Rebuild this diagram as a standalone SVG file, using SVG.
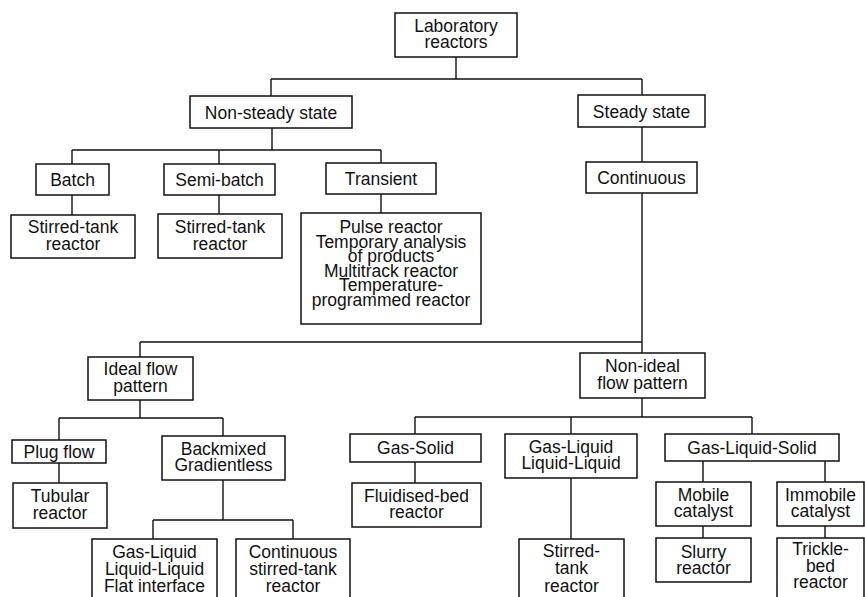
<svg xmlns="http://www.w3.org/2000/svg" width="865" height="597" viewBox="0 0 865 597">
  <style>
    .box { fill: #ffffff; stroke: #111111; stroke-width: 1.5; }
    .wire { fill: none; stroke: #111111; stroke-width: 1.4; }
    text { font-family: "Liberation Sans", Arial, Helvetica, sans-serif; font-size: 17.5px; fill: #111111; text-anchor: middle; }
  </style>
  <rect x="0" y="0" width="865" height="597" fill="#ffffff"/>

  <!-- tree connectors -->
  <g id="connectors" class="wire">
    <path d="M456,57 V79 M271,79 H642 M271,79 V96 M642,79 V95"/>
    <path d="M272,128 V150 M72,150 H381 M72,150 V164 M219,150 V164 M381,150 V163"/>
    <path d="M72,195 V215 M219,195 V214 M381,194 V213"/>
    <path d="M642,127 V162"/>
    <path d="M642,193 V353 M140,342 H642 M140,342 V357"/>
    <path d="M140,400 V418 M59,418 H223 M59,418 V440 M223,418 V436"/>
    <path d="M59,463 V483"/>
    <path d="M223,480 V520 M153,520 H293 M153,520 V539 M293,520 V539"/>
    <path d="M642,398 V417 M415,417 H752 M415,417 V434 M571,417 V434 M752,417 V434"/>
    <path d="M415,462 V483 M571,478 V539"/>
    <path d="M703,461 V482 M825,461 V482 M703,526 V538 M825,526 V538"/>
  </g>

  <g id="root">
    <rect class="box" x="395" y="13" width="122" height="44"/>
    <text x="456" y="31.7">Laboratory<tspan x="456" dy="16.7">reactors</tspan></text>
  </g>

  <g id="non-steady">
    <rect class="box" x="190" y="96" width="162" height="32"/>
    <text x="271" y="118.5">Non-steady state</text>
  </g>

  <g id="steady">
    <rect class="box" x="578" y="95" width="127" height="32"/>
    <text x="641.5" y="117.5">Steady state</text>
  </g>

  <g id="batch">
    <rect class="box" x="36" y="164" width="73" height="31"/>
    <text x="72.5" y="186">Batch</text>
  </g>

  <g id="semi-batch">
    <rect class="box" x="164" y="164" width="111" height="31"/>
    <text x="219.5" y="186">Semi-batch</text>
  </g>

  <g id="transient">
    <rect class="box" x="326" y="163" width="110" height="31"/>
    <text x="381" y="185">Transient</text>
  </g>

  <g id="batch-reactor">
    <rect class="box" x="11" y="215" width="124" height="43"/>
    <text x="73" y="233.3">Stirred-tank<tspan x="73" dy="16.7">reactor</tspan></text>
  </g>

  <g id="semi-batch-reactor">
    <rect class="box" x="158" y="214" width="124" height="44"/>
    <text x="220" y="232.8">Stirred-tank<tspan x="220" dy="16.7">reactor</tspan></text>
  </g>

  <g id="transient-reactors">
    <rect class="box" x="301" y="213" width="180" height="111"/>
    <text x="391" y="233.3">Pulse reactor<tspan x="391" dy="14.5">Temporary analysis</tspan><tspan x="391" dy="14.5">of products</tspan><tspan x="391" dy="14.5">Multitrack reactor</tspan><tspan x="391" dy="14.5">Temperature-</tspan><tspan x="391" dy="14.5">programmed reactor</tspan></text>
  </g>

  <g id="continuous">
    <rect class="box" x="586" y="162" width="111" height="31"/>
    <text x="641.5" y="184">Continuous</text>
  </g>

  <g id="ideal-flow">
    <rect class="box" x="88" y="357" width="105" height="43"/>
    <text x="140.5" y="375.2">Ideal flow<tspan x="140.5" dy="16.7">pattern</tspan></text>
  </g>

  <g id="non-ideal-flow">
    <rect class="box" x="580" y="353" width="125" height="45"/>
    <text x="642.5" y="372.2">Non-ideal<tspan x="642.5" dy="16.7">flow pattern</tspan></text>
  </g>

  <g id="plug-flow">
    <rect class="box" x="12" y="440" width="94" height="23"/>
    <text x="59" y="457.5">Plug flow</text>
  </g>

  <g id="tubular">
    <rect class="box" x="13" y="483" width="94" height="45"/>
    <text x="60" y="502.2">Tubular<tspan x="60" dy="16.7">reactor</tspan></text>
  </g>

  <g id="backmixed">
    <rect class="box" x="162" y="436" width="123" height="44"/>
    <text x="223.5" y="454.7">Backmixed<tspan x="223.5" dy="16.7">Gradientless</tspan></text>
  </g>

  <g id="flat-interface">
    <rect class="box" x="92" y="539" width="125" height="62"/>
    <text x="154.5" y="558.3">Gas-Liquid<tspan x="154.5" dy="16.7">Liquid-Liquid</tspan><tspan x="154.5" dy="16.7">Flat interface</tspan></text>
  </g>

  <g id="cstr">
    <rect class="box" x="236" y="539" width="114" height="62"/>
    <text x="293" y="558.3">Continuous<tspan x="293" dy="16.7">stirred-tank</tspan><tspan x="293" dy="16.7">reactor</tspan></text>
  </g>

  <g id="gas-solid">
    <rect class="box" x="350" y="434" width="131" height="28"/>
    <text x="415.5" y="454">Gas-Solid</text>
  </g>

  <g id="fluidised-bed">
    <rect class="box" x="352" y="483" width="129" height="44"/>
    <text x="416.5" y="501.7">Fluidised-bed<tspan x="416.5" dy="16.7">reactor</tspan></text>
  </g>

  <g id="gas-liquid">
    <rect class="box" x="505" y="434" width="132" height="44"/>
    <text x="571" y="452.7">Gas-Liquid<tspan x="571" dy="16.7">Liquid-Liquid</tspan></text>
  </g>

  <g id="stirred-tank">
    <rect class="box" x="519" y="539" width="105" height="62"/>
    <text x="571.5" y="557">Stirred-<tspan x="571.5" dy="17.3">tank</tspan><tspan x="571.5" dy="17.3">reactor</tspan></text>
  </g>

  <g id="gas-liquid-solid">
    <rect class="box" x="665" y="434" width="174" height="27"/>
    <text x="752" y="453.5">Gas-Liquid-Solid</text>
  </g>

  <g id="mobile">
    <rect class="box" x="656" y="482" width="95" height="44"/>
    <text x="703.5" y="500.7">Mobile<tspan x="703.5" dy="16.7">catalyst</tspan></text>
  </g>

  <g id="immobile">
    <rect class="box" x="777" y="482" width="87" height="44"/>
    <text x="820.5" y="500.7">Immobile<tspan x="820.5" dy="16.7">catalyst</tspan></text>
  </g>

  <g id="slurry">
    <rect class="box" x="656" y="538" width="95" height="44"/>
    <text x="703.5" y="557.5">Slurry<tspan x="703.5" dy="16.7">reactor</tspan></text>
  </g>

  <g id="trickle-bed">
    <rect class="box" x="777" y="538" width="87" height="63"/>
    <text x="820.5" y="555">Trickle-<tspan x="820.5" dy="16.5">bed</tspan><tspan x="820.5" dy="16.5">reactor</tspan></text>
  </g>
</svg>
